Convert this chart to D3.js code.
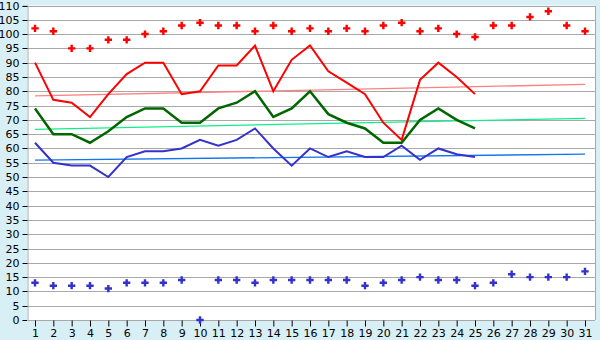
<!DOCTYPE html>
<html>
<head>
<meta charset="utf-8">
<script src="https://cdn.jsdelivr.net/npm/d3@7"></script>
<style>
  html, body { margin: 0; padding: 0; background: #d9eff6; }
  svg { display: block; font-family: "DejaVu Sans", Verdana, sans-serif; }
</style>
</head>
<body>
<div id="chart"></div>
<script>
// days of the month
const days = d3.range(1, 32);

// daily values (days 1-25)
const redLine   = [90, 77, 76, 71, 79, 86, 90, 90, 79, 80, 89, 89, 96, 80, 91, 96, 87, 83, 79, 69, 63, 84, 90, 85, 79];
const greenLine = [74, 65, 65, 62, 66, 71, 74, 74, 69, 69, 74, 76, 80, 71, 74, 80, 72, 69, 67, 62, 62, 70, 74, 70, 67];
const blueLine  = [62, 55, 54, 54, 50, 57, 59, 59, 60, 63, 61, 63, 67, 60, 54, 60, 57, 59, 57, 57, 61, 56, 60, 58, 57];

// point series (all 31 days)
const redPoints  = [102, 101, 95, 95, 98, 98, 100, 101, 103, 104, 103, 103, 101, 103, 101, 102,
                    101, 102, 101, 103, 104, 101, 102, 100, 99, 103, 103, 106, 108, 103, 101];
const bluePoints = [13, 12, 12, 12, 11, 13, 13, 13, 14, 0, 14, 14, 13, 14, 14, 14,
                    14, 14, 12, 13, 14, 15, 14, 14, 12, 13, 16, 15, 15, 15, 17];

// trend lines: [value at day 1, value at day 31]
const redTrend   = [78.4, 82.4];
const greenTrend = [66.7, 70.5];
const blueTrend  = [55.9, 58.0];

const yTicks = d3.range(0, 111, 5);

const W = 600, H = 340;
const plotL = 27, plotR = 595, plotT = 5.5, plotB = 320;

const svg = d3.select("#chart").append("svg")
    .attr("width", W)
    .attr("height", H);

svg.append("rect")
    .attr("width", W).attr("height", H)
    .attr("fill", "#d9eff6");

svg.append("rect")
    .attr("x", plotL).attr("y", plotT)
    .attr("width", plotR - plotL).attr("height", plotB - plotT)
    .attr("fill", "#ffffff");

const x = d3.scaleLinear().domain([1, 31]).range([35, 585]);
const y = d3.scaleLinear().domain([0, 110]).range([plotB, plotT]);

// gridlines
svg.append("g")
    .selectAll("line")
    .data(yTicks)
    .join("line")
    .attr("x1", plotL).attr("x2", plotR)
    .attr("y1", d => Math.round(y(d)) + 0.5)
    .attr("y2", d => Math.round(y(d)) + 0.5)
    .attr("stroke", "#a8a8a8")
    .attr("stroke-width", 1);

// right border
svg.append("line")
    .attr("x1", plotR + 0.5).attr("x2", plotR + 0.5)
    .attr("y1", Math.round(plotT)).attr("y2", plotB)
    .attr("stroke", "#a8a8a8");

// y axis
const yAxis = svg.append("g")
    .attr("transform", `translate(${plotL + 0.5},0)`)
    .call(d3.axisLeft(y).tickValues(yTicks).tickSize(5).tickPadding(3));
yAxis.selectAll("text").attr("font-size", 11).attr("fill", "#000")
    .attr("font-family", "DejaVu Sans, sans-serif");
yAxis.select(".domain").attr("stroke", "#a8a8a8");
yAxis.selectAll(".tick line").attr("stroke", "#000");
yAxis.selectAll(".tick").attr("transform", d => `translate(0,${Math.round(y(d)) + 0.5})`);

// x axis
const xAxis = svg.append("g")
    .attr("transform", `translate(0,${plotB + 0.5})`)
    .call(d3.axisBottom(x).tickValues(days).tickFormat(d3.format("d")).tickSize(6).tickPadding(3));
xAxis.selectAll("text").attr("font-size", 11).attr("fill", "#000")
    .attr("font-family", "DejaVu Sans, sans-serif");
xAxis.select(".domain").attr("stroke", "#a8a8a8").attr("d", `M${plotL},0H${plotR}`);
xAxis.selectAll(".tick line").attr("stroke", "#000");

// trend lines
const trends = [
    { v: redTrend, color: "#ff8080" },
    { v: greenTrend, color: "#11ee88" },
    { v: blueTrend, color: "#1177ee" }
];
svg.append("g")
    .selectAll("line")
    .data(trends)
    .join("line")
    .attr("x1", x(1)).attr("x2", x(31))
    .attr("y1", d => y(d.v[0])).attr("y2", d => y(d.v[1]))
    .attr("stroke", d => d.color)
    .attr("stroke-width", 1.3);

// main lines
const line = d3.line()
    .x((d, i) => x(days[i]))
    .y(d => y(d));

const series = [
    { v: redLine, color: "#ff0000", w: 2 },
    { v: greenLine, color: "#006600", w: 2.5 },
    { v: blueLine, color: "#3333cc", w: 2 }
];
svg.append("g")
    .selectAll("path")
    .data(series)
    .join("path")
    .attr("d", d => line(d.v))
    .attr("fill", "none")
    .attr("stroke", d => d.color)
    .attr("stroke-width", d => d.w)
    .attr("stroke-linejoin", "miter");

// point markers: fat plus / diamond
const cross = d3.symbol().type(d3.symbolCross).size(30);
const pointSets = [
    { v: redPoints, color: "#ff0000" },
    { v: bluePoints, color: "#3333cc" }
];
pointSets.forEach(ps => {
    svg.append("g")
        .selectAll("path")
        .data(ps.v)
        .join("path")
        .attr("d", cross)
        .attr("transform", (d, i) => `translate(${x(days[i])},${y(d)})`)
        .attr("fill", ps.color);
});
</script>
</body>
</html>
